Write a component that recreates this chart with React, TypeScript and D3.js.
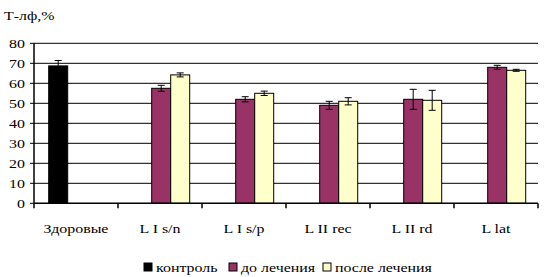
import React from "react";
import * as d3 from "d3";

const categories = ["Здоровые", "L I s/n", "L I s/p", "L II rec", "L II rd", "L lat"];
const seriesNames = ["контроль", "до лечения", "после лечения"];
const controlValues: (number | null)[] = [68.7, null, null, null, null, null];
const controlErrors: (number | null)[] = [2.7, null, null, null, null, null];
const beforeValues: (number | null)[] = [null, 57.5, 52, 49, 52, 68];
const beforeErrors: (number | null)[] = [null, 1.5, 1.3, 2, 5, 1];
const afterValues: (number | null)[] = [null, 64.2, 55, 51, 51.5, 66.5];
const afterErrors: (number | null)[] = [null, 1, 1.1, 1.8, 5, 0.5];
const yTicks = [0, 10, 20, 30, 40, 50, 60, 70, 80];
const colors = ["#000000", "#993366", "#FFFFCC"];

const SX = 1.18;
function T({ x, y, anchor, children }: { x: number; y: number; anchor?: string; children: React.ReactNode }) {
  return (
    <text
      transform={`translate(${x},${y}) scale(${SX},1)`}
      textAnchor={anchor || "start"}
      fontSize={13.5}
      fill="#000"
    >
      {children}
    </text>
  );
}

export default function App() {
  const W = 545, H = 277;
  const left = 34, right = 538, top = 43.3, bottom = 203.3;
  const x = d3.scaleBand<string>().domain(categories).range([left, right]);
  const y = d3.scaleLinear().domain([0, 80]).range([bottom, top]);
  const slot = 19;
  const series = [
    { v: controlValues, e: controlErrors },
    { v: beforeValues, e: beforeErrors },
    { v: afterValues, e: afterErrors },
  ];
  const font = "'Liberation Serif', 'Times New Roman', serif";
  const legendItems = [
    { x: 144, tx: 156 },
    { x: 229, tx: 241 },
    { x: 323, tx: 335 },
  ];
  return (
    <svg width={W} height={H} style={{ position: "absolute", left: 0, top: 0, background: "#fff" }} fontFamily={font}>
      <T x={4} y={20}>Т-лф,%</T>
      {yTicks.map((t) => (
        <g key={t}>
          {t > 0 && <line x1={left} x2={right} y1={y(t)} y2={y(t)} stroke="#000" strokeWidth={1} />}
          <line x1={left - 4} x2={left} y1={y(t)} y2={y(t)} stroke="#000" strokeWidth={1} />
          <T x={left - 9} y={y(t) + 4.5} anchor="end">{t}</T>
        </g>
      ))}
      {categories.map((c, i) => {
        const cx = (x(c) as number) + x.bandwidth() / 2;
        const g0 = cx - (slot * 3) / 2 + 1.2;
        return (
          <g key={c}>
            {series.map((s, k) => {
              const v = s.v[i];
              if (v == null) return null;
              const bx = g0 + k * slot;
              const err = s.e[i] ?? 0;
              const mx = bx + slot / 2;
              return (
                <g key={k}>
                  <rect x={bx} y={y(v)} width={slot} height={y(0) - y(v)} fill={colors[k]} stroke="#000" strokeWidth={1} />
                  <line x1={mx} x2={mx} y1={y(v + err)} y2={y(v - err)} stroke="#000" strokeWidth={1} />
                  <line x1={mx - 3.5} x2={mx + 3.5} y1={y(v + err)} y2={y(v + err)} stroke="#000" strokeWidth={1} />
                  <line x1={mx - 3.5} x2={mx + 3.5} y1={y(v - err)} y2={y(v - err)} stroke="#000" strokeWidth={1} />
                </g>
              );
            })}
            <T x={cx} y={233} anchor="middle">{c}</T>
          </g>
        );
      })}
      {categories.concat([""]).map((_, i) => {
        const tx = left + i * x.bandwidth();
        return <line key={i} x1={tx} x2={tx} y1={bottom} y2={bottom + 5} stroke="#000" strokeWidth={1.5} />;
      })}
      <line x1={left} x2={left} y1={top} y2={bottom} stroke="#000" strokeWidth={1.5} />
      <line x1={left} x2={right} y1={bottom} y2={bottom} stroke="#000" strokeWidth={1.5} />
      {seriesNames.map((n, k) => (
        <g key={n}>
          <rect x={legendItems[k].x} y={263} width={8} height={8} fill={colors[k]} stroke="#000" strokeWidth={1} />
          <T x={legendItems[k].tx} y={272}>{n}</T>
        </g>
      ))}
    </svg>
  );
}
